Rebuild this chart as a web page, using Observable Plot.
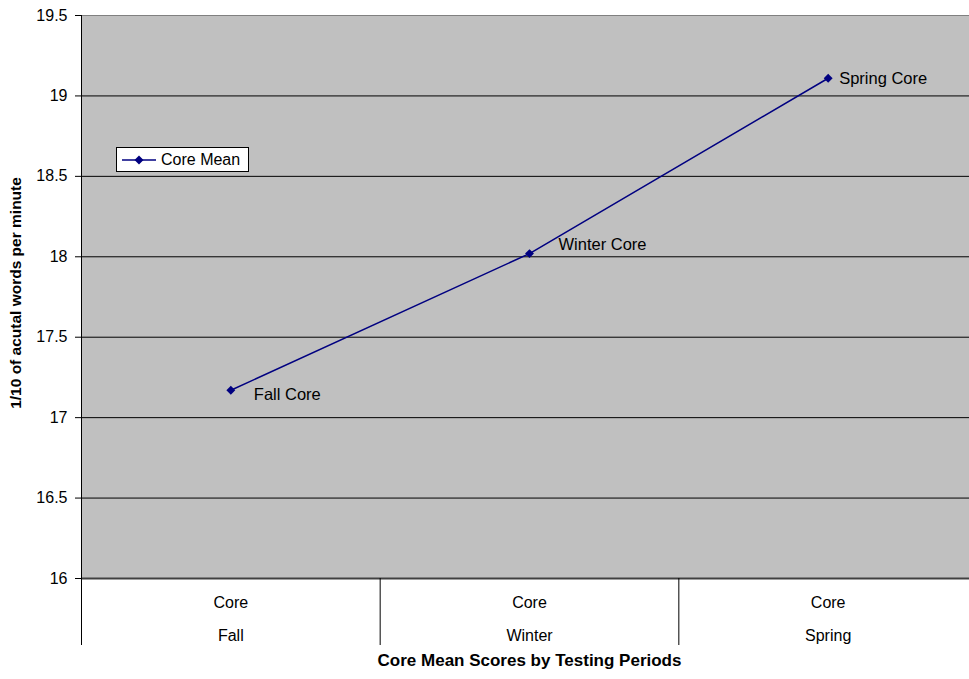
<!DOCTYPE html>
<html>
<head>
<meta charset="utf-8">
<script src="https://cdn.jsdelivr.net/npm/d3@7"></script>
<script src="https://cdn.jsdelivr.net/npm/@observablehq/plot@0.6"></script>
<style>
  body { margin: 0; background: #fff; font-family: "Liberation Sans", Arial, sans-serif; }
  #wrap { position: relative; width: 969px; height: 679px; overflow: hidden; }
  #legend { position: absolute; left: 116px; top: 147px; width: 131px; height: 23px;
    border: 1px solid #000; background: #fff; box-sizing: content-box;
    font: 16px "Liberation Sans", Arial, sans-serif; color: #000; display: flex; align-items: center; }
  #legend svg { margin-left: 5px; margin-right: 5px; }
</style>
</head>
<body>
<div id="wrap"></div>
<script>
// Data
const periods = ["Fall", "Winter", "Spring"];
const groups = ["Core", "Core", "Core"];
const pointLabels = ["Fall Core", "Winter Core", "Spring Core"];
const coreMean = [17.17, 18.02, 19.11];
const yTicks = [16, 16.5, 17, 17.5, 18, 18.5, 19, 19.5];
const seriesName = "Core Mean";
const yTitle = "1/10 of acutal words per minute";
const xTitle = "Core Mean Scores by Testing Periods";

const data = periods.map((p, i) => ({ i, pos: i + 0.5, period: p, group: groups[i], label: pointLabels[i], value: coreMean[i] }));
const navy = "#000080";

const labelOffsets = [[23, 4], [29, -9], [11, 0]];

const chart = Plot.plot({
  width: 969,
  height: 679,
  marginLeft: 81,
  marginRight: 0,
  marginTop: 15,
  marginBottom: 101,
  style: { fontFamily: "'Liberation Sans', Arial, sans-serif", fontSize: "16px", background: "#fff", color: "#000" },
  x: { type: "linear", domain: [0, periods.length], range: [81, 977] },
  y: { domain: [16, 19.5], ticks: yTicks },
  marks: [
    Plot.frame({ fill: "#c0c0c0", stroke: null }),
    Plot.ruleY(yTicks.filter(t => t > 16 && t < 19.5), { stroke: "#000", strokeWidth: 1 }),
    Plot.ruleY([19.5], { stroke: "#808080", strokeWidth: 1 }),
    Plot.ruleY([16], { stroke: "#404040", strokeWidth: 2 }),
    Plot.ruleX([0], { stroke: "#000", strokeWidth: 1 }),
    Plot.axisY({ ticks: yTicks, tickSize: 6, tickPadding: 8, tickFormat: d => String(d), label: null, stroke: "#000" }),
    Plot.axisX({ ticks: d3.range(periods.length + 1), tickSize: 67, tickFormat: () => "", label: null, stroke: "#000" }),
    Plot.axisX({ ticks: periods.map((_, i) => i + 0.5), tickSize: 0, tickPadding: 18, tickFormat: d => groups[Math.floor(d)], label: null }),
    Plot.axisX({ ticks: periods.map((_, i) => i + 0.5), tickSize: 0, tickPadding: 51, tickFormat: d => periods[Math.floor(d)], label: null }),
    Plot.line(data, { x: "pos", y: "value", stroke: navy, strokeWidth: 1.5 }),
    Plot.dot(data, { x: "pos", y: "value", symbol: "diamond2", r: 4, fill: navy, stroke: null }),
    ...data.map((d, k) => Plot.text([d], { x: "pos", y: "value", text: "label", textAnchor: "start", dx: labelOffsets[k][0], dy: labelOffsets[k][1], fill: "#000", fontSize: 16.5 })),
    Plot.text([yTitle], { frameAnchor: "left", textAnchor: "middle", rotate: -90, dx: -65, dy: -4, fontWeight: "bold", fontSize: 15.5, fill: "#000" }),
    Plot.text([xTitle], { frameAnchor: "bottom", textAnchor: "middle", dx: 4, dy: 87, fontWeight: "bold", fontSize: 17, fill: "#000" })
  ]
});

const wrap = document.getElementById("wrap");
wrap.appendChild(chart);

const legend = document.createElement("div");
legend.id = "legend";
legend.innerHTML = `<svg width="34" height="12" viewBox="0 0 34 12"><line x1="0" y1="6" x2="34" y2="6" stroke="${navy}" stroke-width="1.5"/><path d="M17,1.5L21.5,6L17,10.5L12.5,6Z" fill="${navy}"/></svg><span>${seriesName}</span>`;
wrap.appendChild(legend);
</script>
</body>
</html>
